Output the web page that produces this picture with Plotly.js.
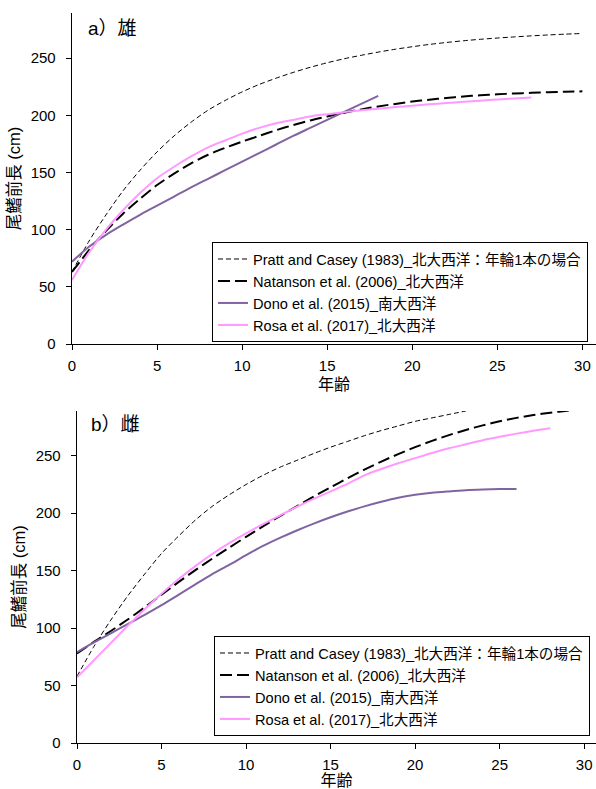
<!DOCTYPE html>
<html>
<head>
<meta charset="utf-8">
<script src="https://cdn.plot.ly/plotly-3.0.1.min.js"></script>
<style>
html,body{margin:0;padding:0;background:#fff;}
#chart{width:596px;height:789px;}
</style>
</head>
<body>
<div id="chart"></div>
<script>
// ---- Series names ----
const seriesNames = [
  "Pratt and Casey (1983)_北大西洋：年輪1本の場合",
  "Natanson et al. (2006)_北大西洋",
  "Dono et al. (2015)_南大西洋",
  "Rosa et al. (2017)_北大西洋"
];
const panelLabels = ["a）雄", "b）雌"];
const xTitle = "年齢";
const yTitle = "尾鰭前長 (cm)";
const xTicks = [0, 5, 10, 15, 20, 25, 30];
const yTicks = [0, 50, 100, 150, 200, 250];

// ---- a) males ----
const agesPrattM = [0,1,2,3,4,5,6,7,8,9,10,11,12,13,14,15,16,17,18,19,20,21,22,23,24,25,26,27,28,29,30];
const lenPrattM  = [63,90,113,134,152,168,182,194,204.5,213,220.5,227,232.5,237.5,242,246,249.5,252.5,255.3,257.8,260,262,263.7,265.2,266.5,267.6,268.6,269.5,270.3,271,271.6];
const agesNatM   = [0,1,2,3,4,5,6,7,8,9,10,11,12,13,14,15,16,17,18,19,20,21,22,23,24,25,26,27,28,29,30];
const lenNatM    = [63,82,99,114,127,139,149,158,165.5,171.5,177,182,187,191.5,195.5,199,202.3,205.2,207.8,210,212,213.7,215.2,216.5,217.5,218.4,219.1,219.7,220.2,220.6,221];
const agesDonoM  = [0,1,2,3,4,5,6,7,8,9,10,11,12,13,14,15,16,17,18];
const lenDonoM   = [72,85,95.5,104.5,113,121,129,137,144.5,152,159.5,167,174.5,182,189,196,203,210,217];
const agesRosaM  = [0,1,2,3,4,5,6,7,8,9,10,11,12,13,14,15,16,17,18,19,20,21,22,23,24,25,26,27];
const lenRosaM   = [56,80,100,117,132,145,155,164,172,178,184,189,193,196,199,201,202.8,204.4,205.8,207.2,208.4,209.6,210.7,211.8,212.8,213.8,214.8,215.7];

// ---- b) females ----
const agesPrattF = [0,1,2,3,4,5,6,7,8,9,10,11,12,13,14,15,16,17,18,19,20,21,22,23];
const lenPrattF  = [58,84,107,128,147,165,180,194,206,216,225,233,240,246,252,257.5,262.5,267.5,272,276,280,283,286,289];
const agesNatF   = [0,1,2,3,4,5,6,7,8,9,10,11,12,13,14,15,16,17,18,19,20,21,22,23,24,25,26,27,28,29,30];
const lenNatF    = [78,88,97.5,107.5,118,129,140,150.5,160.5,170,179.5,188.5,197.5,206,214.5,222.5,230.5,238,245,251.5,257.5,263,268,272.5,276.5,280,283,285.5,287.5,289.3,291];
const agesDonoF  = [0,1,2,3,4,5,6,7,8,9,10,11,12,13,14,15,16,17,18,19,20,21,22,23,24,25,26];
const lenDonoF   = [79,87.5,95.5,103.5,111.5,120,129,138,147,155,163.5,171.5,178.5,185,191,196.5,201.5,206,210,213.5,216,217.8,219,220,220.6,221,221.2];
const agesRosaF  = [0,1,2,3,4,5,6,7,8,9,10,11,12,13,14,15,16,17,18,19,20,21,22,23,24,25,26,27,28];
const lenRosaF   = [57,72,87,102,116.5,130,142.5,154,164.5,174,182.5,190.5,198,205.5,212.5,219,225.5,233,238.5,243.5,248,252.5,256.5,260,263.5,266.5,269.3,271.8,274];

// ---- styles ----
const FONT = "Arial, 'Liberation Sans', 'Noto Sans CJK JP', sans-serif";
const styles = [
  {color: "#000000", width: 1, dash: "5px,3px"},
  {color: "#000000", width: 2, dash: "12px,5px"},
  {color: "#8064A2", width: 2, dash: "solid"},
  {color: "#FF99FF", width: 2, dash: "solid"}
];

function mk(x, y, i, xa, ya, lg) {
  return {
    type: "scatter", mode: "lines", x: x, y: y,
    name: seriesNames[i], xaxis: xa, yaxis: ya, legend: lg,
    line: {color: styles[i].color, width: styles[i].width, dash: styles[i].dash, shape: "spline", smoothing: 0.8},
    hoverinfo: "skip"
  };
}

const data = [
  mk(agesPrattM, lenPrattM, 0, "x", "y", "legend"),
  mk(agesNatM, lenNatM, 1, "x", "y", "legend"),
  mk(agesDonoM, lenDonoM, 2, "x", "y", "legend"),
  mk(agesRosaM, lenRosaM, 3, "x", "y", "legend"),
  mk(agesPrattF, lenPrattF, 0, "x2", "y2", "legend2"),
  mk(agesNatF, lenNatF, 1, "x2", "y2", "legend2"),
  mk(agesDonoF, lenDonoF, 2, "x2", "y2", "legend2"),
  mk(agesRosaF, lenRosaF, 3, "x2", "y2", "legend2")
];

const W = 596, H = 789;
function xaxisDef(leftPx, range, anchor) {
  return {
    domain: [leftPx / W, 1], range: range, anchor: anchor,
    tickmode: "array", tickvals: xTicks, ticktext: xTicks.map(String),
    ticks: "outside", ticklen: 5, tickwidth: 1, tickcolor: "#000",
    ticklabelstandoff: 3,
    showline: true, linecolor: "#000", linewidth: 1.3,
    showgrid: false, zeroline: false,
    tickfont: {family: FONT, size: 15, color: "#000"},
    title: {text: xTitle, font: {family: FONT, size: 16, color: "#000"}, standoff: 5},
    automargin: false, fixedrange: true
  };
}
function yaxisDef(topPx, botPx, range, anchor) {
  return {
    domain: [1 - botPx / H, 1 - topPx / H], range: range, anchor: anchor,
    tickmode: "array", tickvals: yTicks, ticktext: yTicks.map(String),
    ticks: "outside", ticklen: 5, tickwidth: 1, tickcolor: "#000",
    ticklabelstandoff: 7,
    showline: true, linecolor: "#000", linewidth: 1.3,
    showgrid: false, zeroline: false,
    tickfont: {family: FONT, size: 15, color: "#000"},
    title: {text: yTitle, font: {family: FONT, size: 16.5, color: "#000"}, standoff: 6},
    automargin: false, fixedrange: true
  };
}

const legendDef = (xPx, yPx) => ({
  x: xPx / W, y: 1 - yPx / H, xanchor: "left", yanchor: "top",
  bgcolor: "#ffffff", bordercolor: "#000", borderwidth: 1,
  font: {family: FONT, size: 14.6, color: "#000"},
  tracegroupgap: 0, itemwidth: 30
});

const layout = {
  width: W, height: H,
  margin: {l: 0, r: 0, t: 0, b: 0},
  paper_bgcolor: "#fff", plot_bgcolor: "#fff",
  showlegend: true,
  xaxis: xaxisDef(72, [0, 30.8], "y"),
  yaxis: yaxisDef(13, 344, [0, 289.5], "x"),
  xaxis2: xaxisDef(77, [0, 30.7], "y2"),
  yaxis2: yaxisDef(411, 743, [0, 289], "x2"),
  legend: legendDef(212, 242),
  legend2: legendDef(214, 636),
  annotations: [
    {text: panelLabels[0], xref: "paper", yref: "paper", x: 86 / W, y: 1 - 28 / H,
     xanchor: "left", yanchor: "middle", showarrow: false,
     font: {family: FONT, size: 19, color: "#000"}},
    {text: panelLabels[1], xref: "paper", yref: "paper", x: 89 / W, y: 1 - 424 / H,
     xanchor: "left", yanchor: "middle", showarrow: false,
     font: {family: FONT, size: 19, color: "#000"}}
  ]
};

Plotly.newPlot("chart", data, layout, {displayModeBar: false, staticPlot: true});
</script>
</body>
</html>
